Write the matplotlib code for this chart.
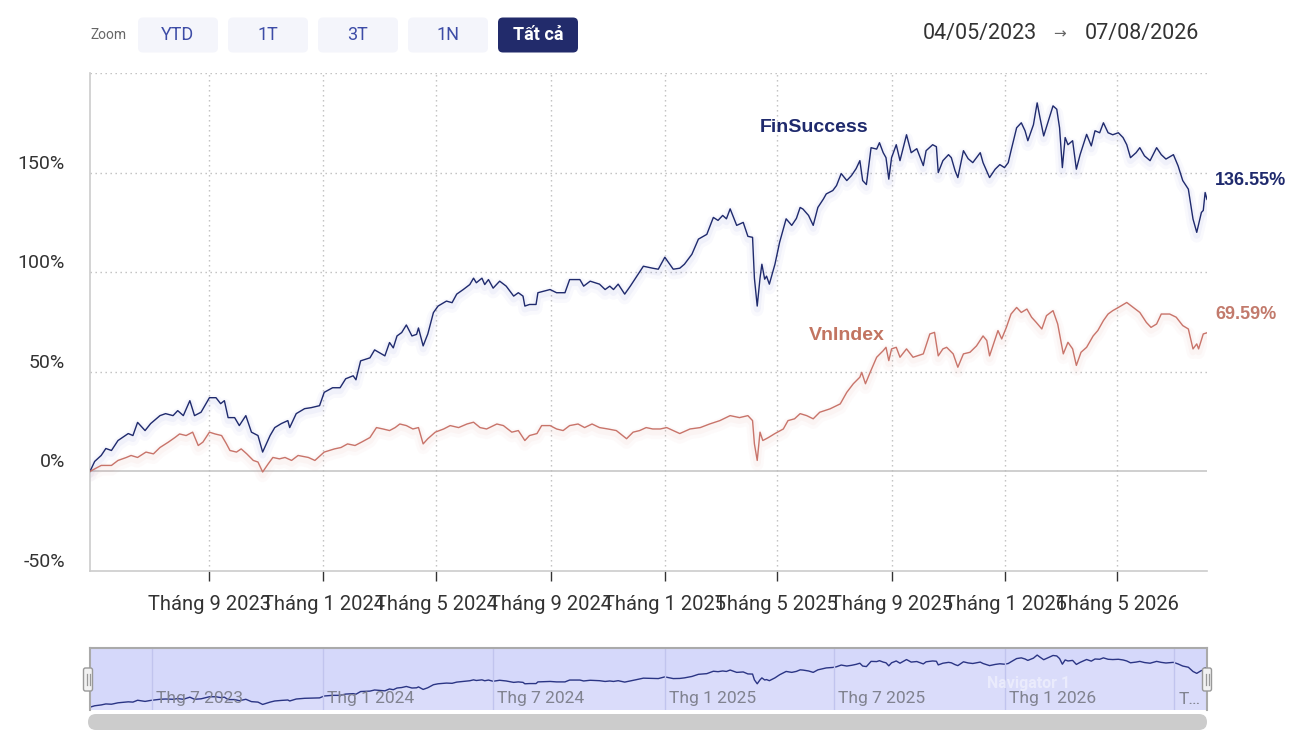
import numpy as np
import pandas as pd
import matplotlib
matplotlib.use('Agg')
import matplotlib.pyplot as plt
import matplotlib.transforms as mtransforms
from matplotlib.patches import FancyBboxPatch

W, H = 1297, 746
START = pd.Timestamp('2023-05-04')

# FinSuccess, cumulative return in %, days counted from START
fin_days = [-8, -3, 4, 9, 15, 22, 33, 38, 43, 51,
            57, 67, 73, 81, 86, 92, 99, 104, 111, 120,
            127, 132, 136, 140, 147, 152, 159, 165, 172, 177,
            185, 190, 197, 204, 206, 213, 222, 229, 238, 243,
            252, 260, 266, 274, 277, 282, 292, 297, 308, 313,
            317, 321, 326, 331, 337, 342, 344, 349, 354, 360,
            365, 374, 380, 385, 392, 399, 403, 406, 412, 415,
            419, 424, 431, 438, 446, 451, 456, 458, 463, 470,
            472, 485, 492, 501, 506, 517, 521, 528, 538, 544,
            549, 553, 558, 565, 571, 578, 585, 595, 601, 608,
            617, 624, 629, 637, 644, 653, 660, 665, 670, 674,
            678, 685, 692, 697, 702, 704, 707, 710, 712, 715,
            717, 720, 726, 731, 738, 744, 749, 753, 756, 762,
            767, 772, 778, 781, 788, 792, 797, 803, 808, 813,
            817, 820, 824, 829, 835, 838, 842, 845, 848, 851,
            856, 860, 867, 872, 878, 885, 888, 895, 899, 901,
            906, 912, 915, 919, 922, 928, 933, 938, 946, 949,
            956, 962, 967, 972, 976, 979, 985, 990, 994, 997,
            1003, 1007, 1010, 1014, 1019, 1024, 1028, 1031, 1034, 1037,
            1040, 1045, 1049, 1053, 1060, 1065, 1069, 1074, 1078, 1083,
            1088, 1094, 1099, 1103, 1107, 1113, 1117, 1122, 1128, 1135,
            1140, 1145, 1153, 1158, 1163, 1169, 1172, 1174, 1178, 1183,
            1185, 1187, 1189]
fin_vals = [0, 5, 8, 11.5, 10.5, 15.5, 19, 18, 24.6, 20.5,
            24, 28, 29, 28, 30.5, 28, 35.5, 28, 29.7, 37,
            37, 34, 35.5, 27, 27, 23, 28, 19.7, 18, 9.7,
            18, 22, 24, 25.5, 22, 29, 31.5, 32, 33, 39.7,
            42, 42, 46.5, 48, 46, 55.5, 57, 61, 58, 64.7,
            62, 68, 69.7, 73.5, 68, 68.8, 72, 63, 69, 79.7,
            83, 85.5, 84.7, 89, 91.3, 93.8, 97, 94.7, 97, 93.8,
            96.3, 92, 95.5, 93, 88, 89.7, 88, 83, 83.8, 83.8,
            89.7, 91.3, 89.7, 89.7, 96.3, 96.3, 93, 95.5, 94, 91.3,
            93, 91.3, 94, 89, 93, 98, 103, 102, 101.5, 107.5,
            101.5, 102, 104, 109, 116.6, 119, 127.5, 126, 128.5, 126.8,
            131.8, 123.5, 125, 118, 117.5, 97, 83, 97, 104, 96.5,
            98, 94, 104, 115, 126.8, 123.5, 127, 132.5, 131.7, 128.5,
            123.5, 132.5, 136.8, 139.3, 141, 143.5, 149.5, 146, 148.5, 152,
            156, 146, 144, 162.5, 161.8, 165, 160, 157.5, 146.7, 157.5,
            164, 156, 169, 160, 162, 153.5, 161, 164, 163, 150,
            156, 159, 157.5, 151, 147.5, 161, 157, 155, 160, 155,
            147.5, 151.7, 154, 152.5, 155, 161, 172.5, 175, 171, 166,
            174, 185, 177.6, 168.4, 176, 183.5, 181.8, 172.5, 152.5, 167.6,
            164, 166, 151.7, 159, 169.2, 163.4, 171, 170, 175, 170,
            169, 170, 167.6, 164, 157.5, 160, 162.5, 158.4, 156, 162.5,
            159, 156.8, 159, 153.4, 146, 141.7, 132.5, 126.7, 120, 130,
            131, 140, 136.55]

# VnIndex, cumulative return in %
vn_days = [-8, 4, 15, 22, 31, 36, 43, 52, 60, 67,
           76, 83, 88, 95, 102, 108, 113, 120, 126, 133,
           138, 142, 149, 154, 160, 167, 172, 177, 183, 188,
           195, 201, 208, 215, 226, 233, 243, 254, 261, 268,
           276, 283, 292, 299, 306, 313, 319, 324, 331, 338,
           344, 349, 354, 362, 371, 378, 387, 396, 403, 410,
           417, 428, 435, 444, 451, 458, 463, 471, 476, 485,
           492, 499, 506, 515, 522, 530, 538, 547, 556, 567,
           574, 581, 588, 595, 603, 610, 624, 635, 646, 656,
           667, 678, 688, 697, 702, 704, 707, 710, 713, 719,
           726, 735, 740, 747, 753, 760, 767, 774, 785, 796,
           803, 810, 817, 819, 823, 828, 835, 842, 845, 848,
           851, 856, 860, 867, 874, 885, 892, 897, 901, 906,
           910, 917, 922, 928, 935, 942, 949, 953, 956, 962,
           965, 969, 974, 979, 985, 990, 996, 1001, 1006, 1012,
           1017, 1024, 1029, 1035, 1040, 1045, 1049, 1054, 1060, 1067,
           1072, 1078, 1083, 1088, 1094, 1103, 1110, 1117, 1124, 1129,
           1135, 1140, 1149, 1156, 1163, 1169, 1174, 1178, 1180, 1185,
           1189]
vn_vals = [0, 3, 3, 5.5, 7, 8, 7, 9.7, 8.8, 12,
           14.7, 17, 18.8, 18, 19.7, 13, 14.7, 19.7, 18.8, 18,
           14, 10.5, 9.7, 11.3, 8.8, 5.5, 4.7, -0.3, 3.8, 7,
           6.3, 7, 5.5, 8, 7, 5.5, 9.7, 11.3, 12, 13.8,
           13, 14.7, 17, 22, 21.3, 20.5, 22, 23.8, 23, 21.3,
           22, 13.8, 16.4, 19.7, 21.3, 23, 22, 23.8, 24.7, 22,
           21.3, 23.8, 23, 19.7, 20.5, 15.5, 18, 19, 23, 23,
           21.3, 20.5, 23, 23.8, 22, 23.8, 22, 21.3, 20.5, 16.4,
           19.7, 20.5, 22, 21.3, 21.3, 22, 19, 21.3, 22, 23.8,
           25.5, 28, 27, 28, 25.5, 13.8, 5.5, 19.7, 15.5, 17,
           19, 21.3, 25.5, 26.4, 29, 28, 26.4, 29.7, 31.4, 33.9,
           39.7, 44, 47.3, 49.7, 44, 49.7, 57.3, 60.6, 62.3, 55.6,
           61.5, 62.3, 57.3, 61.5, 57.3, 59, 69, 69.8, 58, 61.5,
           62.3, 59, 52.3, 59, 59.8, 63, 68, 65.7, 58, 66.5,
           70.7, 66.5, 72.3, 79, 82.3, 79.8, 81.5, 77.4, 74.8, 71.5,
           78.2, 80.7, 74, 59, 64.8, 61.5, 53.2, 59.8, 62.3, 68,
           70.7, 75.7, 79, 80.7, 82.3, 84.8, 82.3, 79.8, 74.8, 72.3,
           74, 79, 79, 77.4, 73.2, 71.5, 61.5, 64, 61.5, 69,
           69.59]

axis_months = [(2023, 9), (2024, 1), (2024, 5), (2024, 9), (2025, 1),
               (2025, 5), (2025, 9), (2026, 1), (2026, 5)]
nav_months = [(2023, 7), (2024, 1), (2024, 7), (2025, 1), (2025, 7),
              (2026, 1), (2026, 7)]
y_ticks = [-50, 0, 50, 100, 150]
zoom_buttons = ['YTD', '1T', '3T', '1N', 'Tất cả']
range_start, range_end = '04/05/2023', '07/08/2026'

assert len(fin_days) == len(fin_vals) and len(vn_days) == len(vn_vals)

NAVY = '#1f2a6d'
SALMON = '#c8746a'
FONT = ['Roboto', 'DejaVu Sans']
plt.rcParams['font.family'] = FONT

fin_dates = START + pd.to_timedelta(fin_days, unit='D')
vn_dates = START + pd.to_timedelta(vn_days, unit='D')
x_lo = START + pd.Timedelta(days=fin_days[0])
x_hi = START + pd.Timedelta(days=fin_days[-1])

fig = plt.figure(figsize=(W / 100, H / 100), dpi=100)
fig.patch.set_facecolor('white')


def fig_box(x0, y0, x1, y1):
    return [x0 / W, 1 - y1 / H, (x1 - x0) / W, (y1 - y0) / H]


# ---------------- main chart ----------------
ax = fig.add_axes(fig_box(90, 73, 1207, 571))
ax.set_xlim(x_lo, x_hi)
ax.set_ylim(-50, 200)
for s in ['top', 'right']:
    ax.spines[s].set_visible(False)
for s in ['left', 'bottom']:
    ax.spines[s].set_color('#cccccc')
    ax.spines[s].set_linewidth(1.2)

dotted = (0, (1, 2.6))
for v in [50, 100, 150, 200]:
    ax.axhline(v, color='#bdbdbd', lw=1, ls=dotted, zorder=1)
ax.axhline(0, color='#cccccc', lw=1.3, zorder=1)

tick_dates = [pd.Timestamp(year=y, month=m, day=1) for y, m in axis_months]
for d in tick_dates:
    ax.axvline(d, color='#bdbdbd', lw=1, ls=dotted, zorder=1)
ax.set_xticks(tick_dates)
ax.set_yticks(y_ticks)
ax.tick_params(axis='x', length=7.2, width=1, color='#333333', labelbottom=False)
ax.tick_params(axis='y', length=0, labelleft=False)

for d, (y, m) in zip(tick_dates, axis_months):
    ax.annotate(f'Tháng {m} {y}', xy=(d, 0), xycoords=('data', 'axes fraction'),
                xytext=(0, -33), textcoords='offset pixels',
                ha='center', va='center', fontsize=14.5, color='#333333')
for v in y_ticks:
    ax.annotate(f'{v}%', xy=(0, v), xycoords=('axes fraction', 'data'),
                xytext=(-25, 9), textcoords='offset pixels',
                ha='right', va='center', fontsize=14, color='#333333')

# soft glow under the lines
for dates, vals, col, glow in [(fin_dates, fin_vals, NAVY, '#5a63c8'),
                               (vn_dates, vn_vals, SALMON, '#e08a80')]:
    for lw, a, dy in [(9, 0.035, -4), (5, 0.05, -3)]:
        off = mtransforms.ScaledTranslation(0, dy / 100, fig.dpi_scale_trans)
        ax.plot(dates, vals, color=glow, lw=lw, alpha=a,
                solid_capstyle='round', transform=ax.transData + off, zorder=2)
    ax.plot(dates, vals, color=col, lw=1.0, zorder=4)

ax.annotate(f'{fin_vals[-1]:.2f}%', xy=(fin_dates[-1], fin_vals[-1]),
            xytext=(8, 19), textcoords='offset pixels', ha='left', va='center',
            fontsize=13, fontweight='bold', color=NAVY,
            family='Liberation Sans', annotation_clip=False)
ax.annotate(f'{vn_vals[-1]:.2f}%', xy=(vn_dates[-1], vn_vals[-1]),
            xytext=(8, 18), textcoords='offset pixels', ha='left', va='center',
            fontsize=13, fontweight='bold', color='#c27a6c',
            family='Liberation Sans', annotation_clip=False)

# ---------------- navigator ----------------
nav = fig.add_axes(fig_box(90, 648, 1207, 710))
nav.set_facecolor('#d5d8fa')
nav.set_xlim(x_lo, x_hi)
nav.set_ylim(-10, 210)
nav.set_xticks([])
nav.set_yticks([])
for s in ['top', 'left', 'right']:
    nav.spines[s].set_color('#aaaaaa')
    nav.spines[s].set_linewidth(1.5)
nav.spines['bottom'].set_visible(False)
nav.fill_between(fin_dates, fin_vals, -10, color='#ffffff', alpha=0.12, lw=0)
nav.plot(fin_dates, fin_vals, color='#2b3584', lw=1.0)
nav_dates = [pd.Timestamp(year=y, month=m, day=1) for y, m in nav_months]
for i, (d, (y, m)) in enumerate(zip(nav_dates, nav_months)):
    nav.axvline(d, color='#c1c4ee', lw=1)
    label = f'Thg {m} {y}' if i < len(nav_months) - 1 else 'T…'
    nav.annotate(label, xy=(d, 0), xycoords=('data', 'axes fraction'),
                 xytext=(4, 11), textcoords='offset pixels',
                 ha='left', va='center', fontsize=12.5, color='#80828f')
nav.text(0.84, 0.42, 'Navigator 1', transform=nav.transAxes, ha='center',
         va='center', fontsize=11.5, fontweight='bold', color='white', alpha=0.45)

# ---------------- overlay: buttons, dates, handles, scrollbar ----------------
ov = fig.add_axes([0, 0, 1, 1])
ov.set_xlim(0, W)
ov.set_ylim(H, 0)
ov.axis('off')

ov.text(90, 35, 'Zoom', ha='left', va='center', fontsize=10, color='#666666')
for i, name in enumerate(zoom_buttons):
    x0 = 138 + 90 * i
    active = i == len(zoom_buttons) - 1
    ov.add_patch(FancyBboxPatch((x0, 17.5), 80, 35, boxstyle='round,pad=0,rounding_size=5',
                                fc='#222b6b' if active else '#f4f5fb', ec='none'))
    ov.text(x0 + 40, 35.5, name, ha='center', va='center', fontsize=13,
            color='white' if active else '#3d4ca6',
            fontweight='bold' if active else 'normal')

ov.text(1037, 33.5, range_start, ha='right', va='center', fontsize=15.5, color='#333333')
ov.text(1060, 33.5, '→', ha='center', va='center', fontsize=11, color='#666666',
        family=['DejaVu Sans'])
ov.text(1199, 33.5, range_end, ha='right', va='center', fontsize=15.5, color='#333333')

ov.add_patch(FancyBboxPatch((88, 714), 1119, 16, boxstyle='round,pad=0,rounding_size=8',
                            fc='#cccccc', ec='none'))
for hx in (88, 1207):
    ov.add_patch(FancyBboxPatch((hx - 4.5, 668), 9, 23, boxstyle='round,pad=0,rounding_size=2',
                                fc='#f2f2f2', ec='#999999', lw=1))
    for dx in (-1.5, 1.5):
        ov.plot([hx + dx, hx + dx], [674, 685], color='#999999', lw=0.9)

ov.text(814, 127, 'FinSuccess', ha='center', va='center', fontsize=14,
        fontweight='bold', color=NAVY, family='Liberation Sans')
ov.text(847, 335, 'VnIndex', ha='center', va='center', fontsize=14,
        fontweight='bold', color='#c27461', family='Liberation Sans')

fig.savefig('out.png', dpi=100, facecolor='white')
